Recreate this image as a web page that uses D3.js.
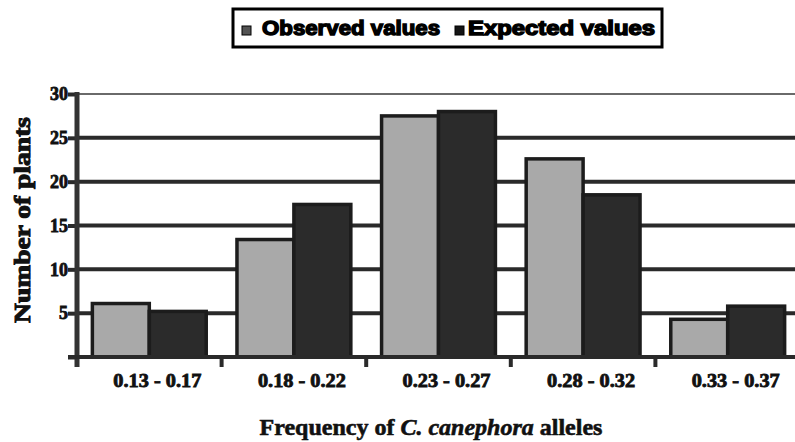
<!DOCTYPE html>
<html><head><meta charset="utf-8">
<script src="https://cdn.jsdelivr.net/npm/d3@7"></script>
<style>html,body{margin:0;padding:0;background:#fff;}svg{display:block;}</style>
</head><body>
<svg id="chart" width="795" height="442"></svg>
<script>
const categories = ["0.13 - 0.17", "0.18 - 0.22", "0.23 - 0.27", "0.28 - 0.32", "0.33 - 0.37"];
const seriesNames = ["Observed values", "Expected values"];
const observed = [6.1, 13.4, 27.5, 22.6, 4.3];
const expected = [5.2, 17.4, 28.0, 18.5, 5.8];
const yTicks = [0, 5, 10, 15, 20, 25, 30];
const yTickLabels = ["", "5", "10", "15", "20", "25", "30"];

const svg = d3.select("#chart");
const pLeft = 77, pRight = 800, pTop = 94, pBottom = 357;
const colors = {"Observed values": "#a9a9a9", "Expected values": "#2b2b2b"};

const x = d3.scaleBand().domain(categories).range([pLeft, pRight]).paddingInner(0).paddingOuter(0);
const xs = d3.scaleBand().domain(seriesNames).range([0, x.bandwidth()]).paddingInner(0).paddingOuter(0.27);
const y = d3.scaleLinear().domain([0, 30]).range([pBottom, pTop]);

// gridlines
svg.append("g").selectAll("line").data(yTicks.filter(d => d > 0)).join("line")
  .attr("x1", pLeft).attr("x2", 795)
  .attr("y1", d => y(d)).attr("y2", d => y(d))
  .attr("stroke", d => d === 30 ? "#6a6a6a" : "#2a2a2a")
  .attr("stroke-width", d => d === 30 ? 2 : 4);

// bars
const data = categories.map((c, i) => ({c, vals: [
  {s: seriesNames[0], v: observed[i]},
  {s: seriesNames[1], v: expected[i]}
]}));
const g = svg.append("g").selectAll("g").data(data).join("g")
  .attr("transform", d => `translate(${x(d.c)},0)`);
g.selectAll("rect").data(d => d.vals).join("rect")
  .attr("x", d => xs(d.s))
  .attr("width", xs.bandwidth())
  .attr("y", d => y(d.v))
  .attr("height", d => y(0) - y(d.v))
  .attr("fill", d => colors[d.s])
  .attr("stroke", "#1c1c1c").attr("stroke-width", 3.5);

// y axis
const yAxis = d3.axisLeft(y).tickValues(yTicks).tickSize(9).tickFormat((d, i) => yTickLabels[i]);
const ya = svg.append("g").attr("transform", `translate(${pLeft},0)`).call(yAxis);
ya.select(".domain").remove();
ya.selectAll(".tick line").attr("stroke", "#2a2a2a").attr("stroke-width", 4);
ya.selectAll(".tick text").attr("x", -9)
  .attr("font-family", "Liberation Serif").attr("font-weight", "bold")
  .attr("font-size", 18).attr("fill", "#111")
  .attr("stroke", "#111").attr("stroke-width", 0.8);
svg.append("line").attr("x1", pLeft).attr("x2", pLeft).attr("y1", pTop - 2).attr("y2", pBottom + 10)
  .attr("stroke", "#333").attr("stroke-width", 5);

// x axis
const xAxis = d3.axisBottom(x).tickSize(0).tickFormat(d => d);
const xa = svg.append("g").attr("transform", `translate(0,${pBottom})`).call(xAxis);
xa.select(".domain").remove();
xa.selectAll(".tick text").attr("dy", 0).attr("y", 30).attr("dx", 8)
  .attr("font-family", "Liberation Serif").attr("font-weight", "bold")
  .attr("font-size", 18).attr("fill", "#111")
  .attr("stroke", "#111").attr("stroke-width", 0.8)
  .attr("textLength", 88).attr("lengthAdjust", "spacingAndGlyphs");
svg.append("line").attr("x1", pLeft - 9).attr("x2", 795).attr("y1", pBottom).attr("y2", pBottom)
  .attr("stroke", "#2a2a2a").attr("stroke-width", 4);
svg.append("g").selectAll("line").data(categories.slice(1)).join("line")
  .attr("x1", d => x(d)).attr("x2", d => x(d))
  .attr("y1", pBottom).attr("y2", pBottom + 10)
  .attr("stroke", "#2a2a2a").attr("stroke-width", 4);

// axis titles
svg.append("text").attr("transform", "translate(30,220) rotate(-90)")
  .attr("text-anchor", "middle")
  .attr("font-family", "Liberation Serif").attr("font-weight", "bold")
  .attr("font-size", 24).attr("fill", "#111")
  .attr("stroke", "#111").attr("stroke-width", 1)
  .attr("textLength", 206).attr("lengthAdjust", "spacingAndGlyphs")
  .text("Number of plants");

const xt = svg.append("text").attr("x", 431).attr("y", 435).attr("text-anchor", "middle")
  .attr("font-family", "Liberation Serif").attr("font-weight", "bold")
  .attr("font-size", 24).attr("fill", "#111")
  .attr("stroke", "#111").attr("stroke-width", 0.6);
xt.append("tspan").text("Frequency of ");
xt.append("tspan").attr("font-style", "italic").text("C. canephora");
xt.append("tspan").text(" alleles");

// legend
svg.append("rect").attr("x", 233).attr("y", 9).attr("width", 429).attr("height", 38)
  .attr("fill", "#fff").attr("stroke", "#000").attr("stroke-width", 3);
const legendPos = [{mx: 242, tx: 262, len: 178}, {mx: 455, tx: 468, len: 187}];
const lg = svg.append("g").selectAll("g").data(seriesNames).join("g");
lg.append("rect").attr("x", (d, i) => legendPos[i].mx).attr("y", 26)
  .attr("width", 9).attr("height", 9)
  .attr("fill", d => d3.color(colors[d]).darker(2)).attr("stroke", "#000").attr("stroke-width", 1);
lg.append("text").attr("x", (d, i) => legendPos[i].tx).attr("y", 35)
  .attr("font-family", "Liberation Sans").attr("font-weight", "bold")
  .attr("font-size", 20).attr("fill", "#000")
  .attr("textLength", (d, i) => legendPos[i].len).attr("lengthAdjust", "spacingAndGlyphs")
  .attr("stroke", "#000").attr("stroke-width", 1.4)
  .text(d => d);
</script>
</body></html>
